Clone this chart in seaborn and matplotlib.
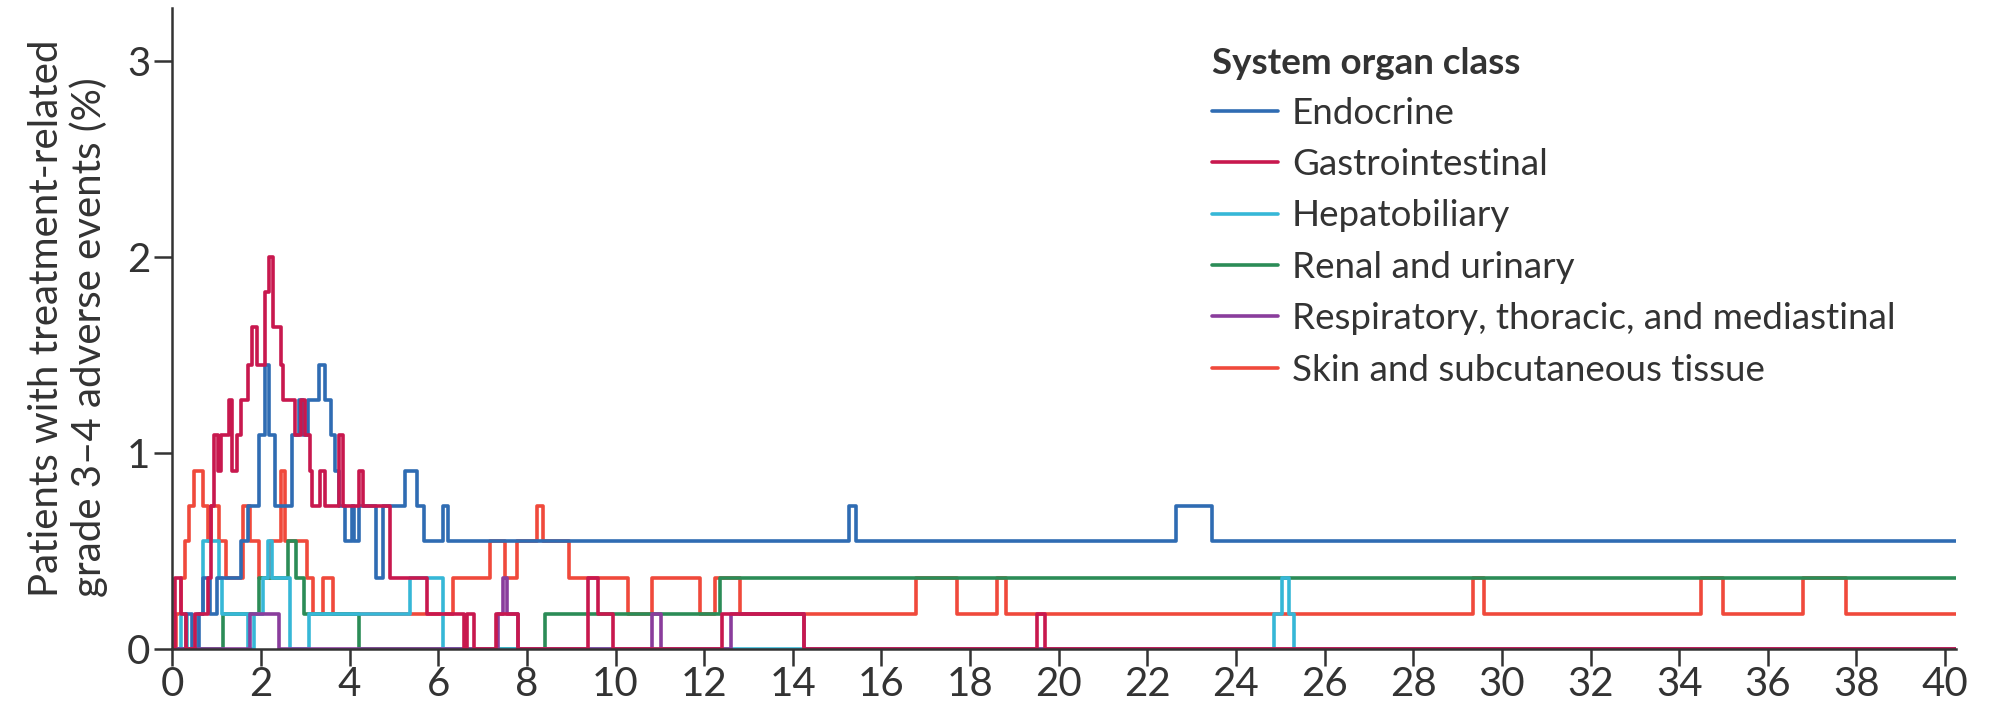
import matplotlib
matplotlib.use("Agg")
import matplotlib.pyplot as plt
import pandas as pd
import seaborn as sns

# month where prevalence changes, and prevalence (%) from that month on
endocrine_t = [0, 0.3, 0.45, 0.6, 0.7, 0.85, 1.0, 1.55, 1.7, 1.95, 2.08, 2.18, 2.32, 2.7, 2.85, 2.95, 3.05, 3.3, 3.45,
               3.58, 3.66, 3.75, 3.9, 4.05, 4.1, 4.2, 4.6, 4.75, 5.25, 5.52, 5.67, 6.1, 6.22, 15.27, 15.43, 22.65,
               23.46, 40.25]
endocrine_v = [0, 0.18, 0, 0.18, 0.36, 0.18, 0.36, 0.55, 0.73, 1.09, 1.45, 1.09, 0.73, 1.09, 1.27, 1.09, 1.27, 1.45,
               1.27, 1.09, 0.91, 0.73, 0.55, 0.73, 0.55, 0.73, 0.36, 0.73, 0.91, 0.73, 0.55, 0.73, 0.55, 0.73, 0.55,
               0.73, 0.55, 0.55]

gastro_t = [0, 0.05, 0.2, 0.3, 0.5, 0.8, 0.88, 0.95, 1.03, 1.1, 1.28, 1.35, 1.45, 1.55, 1.7, 1.8, 1.9, 2.1, 2.18, 2.28,
            2.45, 2.5, 2.77, 2.9, 3.0, 3.1, 3.14, 3.33, 3.45, 3.75, 3.85, 4.2, 4.3, 4.91, 5.74, 6.57, 6.65, 6.8, 7.3,
            7.8, 9.38, 9.6, 9.95, 12.4, 14.25, 19.5, 19.68, 40.25]
gastro_v = [0, 0.36, 0.18, 0, 0.18, 0.36, 0.73, 1.09, 0.91, 1.09, 1.27, 0.91, 1.09, 1.27, 1.45, 1.64, 1.45, 1.82, 2.0,
            1.64, 1.45, 1.27, 1.09, 1.27, 1.09, 0.91, 0.73, 0.91, 0.73, 1.09, 0.73, 0.91, 0.73, 0.36, 0.18, 0, 0.18,
            0, 0.18, 0, 0.36, 0.18, 0, 0.18, 0, 0.18, 0, 0]

hepato_t = [0, 0.2, 0.32, 0.55, 0.68, 1.06, 1.12, 1.7, 1.85, 2.05, 2.15, 2.25, 2.66, 3.08, 5.36, 6.11, 24.86, 25.04,
            25.2, 25.3, 40.25]
hepato_v = [0, 0.18, 0, 0.18, 0.55, 0.36, 0.18, 0, 0.18, 0.36, 0.55, 0.36, 0, 0.18, 0.36, 0, 0.18, 0.36, 0.18, 0, 0]

renal_t = [0, 1.15, 1.95, 2.6, 2.8, 2.96, 4.2, 8.4, 12.35, 40.25]
renal_v = [0, 0.18, 0.36, 0.55, 0.36, 0.18, 0, 0.18, 0.36, 0.36]

resp_t = [0, 1.75, 2.4, 7.35, 7.45, 7.55, 7.8, 10.83, 11.03, 12.6, 14.25, 40.25]
resp_v = [0, 0.18, 0, 0.18, 0.36, 0.18, 0, 0.18, 0, 0.18, 0, 0]

skin_t = [0, 0.08, 0.2, 0.28, 0.38, 0.48, 0.7, 0.8, 0.88, 1.05, 1.2, 1.6, 1.75, 1.95, 2.2, 2.45, 2.55, 3.03, 3.18, 3.4,
          3.63, 6.34, 7.17, 7.5, 7.77, 8.22, 8.37, 8.95, 10.27, 10.83, 11.9, 12.25, 12.8, 16.79, 17.7, 18.6, 18.8,
          29.35, 29.6, 34.5, 34.98, 36.8, 37.77, 40.25]
skin_v = [0, 0.18, 0.36, 0.55, 0.73, 0.91, 0.73, 0.55, 0.73, 0.55, 0.36, 0.73, 0.55, 0.36, 0.55, 0.91, 0.55, 0.36,
          0.18, 0.36, 0.18, 0.36, 0.55, 0.36, 0.55, 0.73, 0.55, 0.36, 0.18, 0.36, 0.18, 0.36, 0.18, 0.36, 0.18, 0.36,
          0.18, 0.36, 0.18, 0.36, 0.18, 0.36, 0.18, 0.18]

legend_order = ["Endocrine", "Gastrointestinal", "Hepatobiliary", "Renal and urinary",
                "Respiratory, thoracic, and mediastinal", "Skin and subcutaneous tissue"]
colors = {"Endocrine": "#2f6cb3", "Gastrointestinal": "#c8184e", "Hepatobiliary": "#36b7d7",
          "Renal and urinary": "#2b8c57", "Respiratory, thoracic, and mediastinal": "#8a3d9c",
          "Skin and subcutaneous tissue": "#f0493b"}

series = {
    "Endocrine": (endocrine_t, endocrine_v),
    "Gastrointestinal": (gastro_t, gastro_v),
    "Hepatobiliary": (hepato_t, hepato_v),
    "Renal and urinary": (renal_t, renal_v),
    "Respiratory, thoracic, and mediastinal": (resp_t, resp_v),
    "Skin and subcutaneous tissue": (skin_t, skin_v),
}
frames = []
for name, (t, v) in series.items():
    frames.append(pd.DataFrame({"month": t, "pct": v, "soc": name}))
df = pd.concat(frames, ignore_index=True)

sns.set_style("ticks")
plt.rcParams["font.family"] = ["Lato", "DejaVu Sans"]
ink = "#333333"

fig = plt.figure(figsize=(19.93, 7.14), dpi=100)
ax = fig.add_axes([0.0865, 0.091, 0.895, 0.898])

# bottom to top drawing order
draw_order = ["Skin and subcutaneous tissue", "Renal and urinary", "Hepatobiliary", "Endocrine",
              "Respiratory, thoracic, and mediastinal", "Gastrointestinal"]
for name in draw_order:
    sub = df[df["soc"] == name]
    sns.lineplot(data=sub, x="month", y="pct", ax=ax, color=colors[name], label=name,
                 estimator=None, sort=False, drawstyle="steps-post", linewidth=2.6)

ax.set_xlim(0, 40.25)
ax.set_ylim(0, 3.27)
ax.set_xticks(range(0, 41, 2))
ax.set_yticks([0, 1, 2, 3])
ax.set_xlabel("")
ax.set_ylabel("")
sns.despine(ax=ax)
for s in ["left", "bottom"]:
    ax.spines[s].set_color(ink)
    ax.spines[s].set_linewidth(1.8)
ax.tick_params(axis="both", length=12, width=1.8, color=ink, labelcolor=ink, labelsize=29)
ax.tick_params(axis="x", pad=0.5)
ax.tick_params(axis="y", pad=3, length=13)

fig.text(0.034, 0.164, "Patients with treatment-related\ngrade 3–4 adverse events (%)",
         rotation=90, ha="center", va="bottom", multialignment="left", fontsize=29, color=ink,
         linespacing=1.15)

handles, labels = ax.get_legend_handles_labels()
lookup = dict(zip(labels, handles))
leg = ax.legend([lookup[n] for n in legend_order], legend_order, title="System organ class",
                loc="upper left", bbox_to_anchor=(1212 / 1993, 1 - 47 / 714), bbox_transform=fig.transFigure,
                frameon=False, fontsize=26.5, title_fontproperties={"weight": "bold", "size": 26.5},
                alignment="left", handlelength=1.8, handletextpad=0.37, labelspacing=0.5,
                borderpad=0, borderaxespad=0)
leg._legend_box.sep = 12
for txt in leg.get_texts():
    txt.set_color(ink)
leg.get_title().set_color(ink)

fig.savefig("out.png", dpi=100)
